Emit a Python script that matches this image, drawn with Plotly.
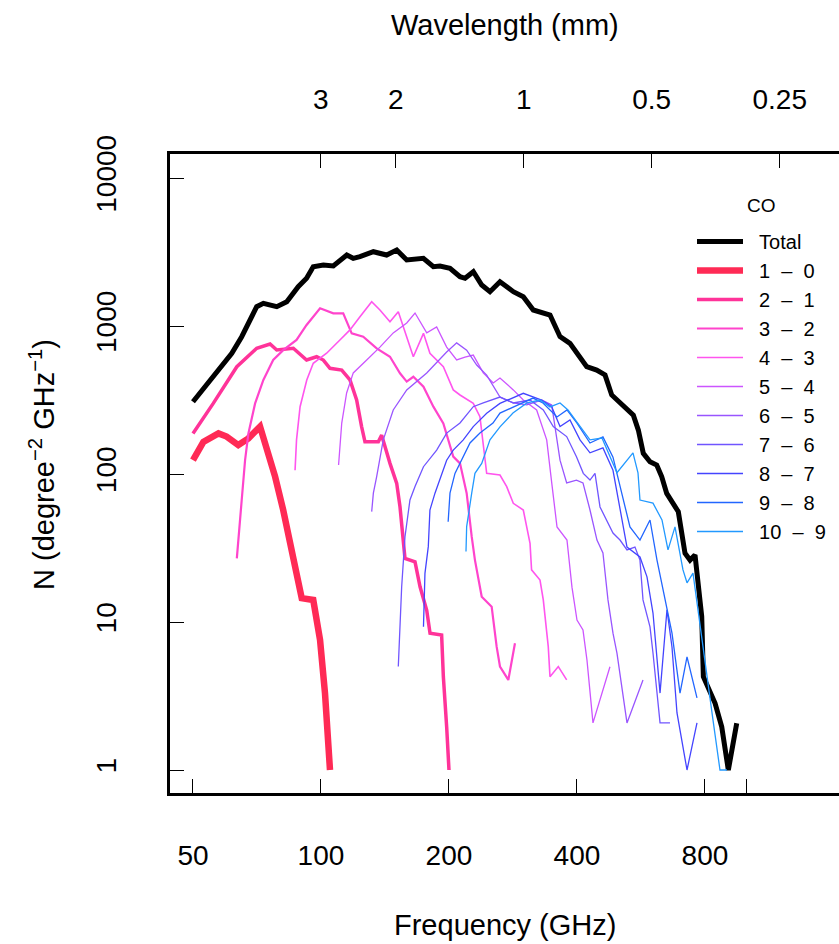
import math
import plotly.graph_objects as go

# ---------------- data ----------------
freq_total = [50, 61.7, 65.1, 70.6, 73.2, 78.7, 83.1, 88.4, 92.5, 95.9, 101.3, 106.9, 115, 119.1, 123.5,
              132.8, 142.7, 150.7, 159.1, 174.1, 183.8, 190.5, 201.1, 212.3, 218.2, 228.2, 238.8, 249.7,
              263.6, 283.4, 299.1, 315.7, 345.7, 364.9, 385.1, 406.6, 421.6, 445.1, 465.6, 482.8, 514,
              542.8, 557.7, 572.8, 594, 616, 632.8, 650.3, 692.4, 718, 737.8, 758, 786, 793, 845, 876,
              907.8, 950]
n_total = [308, 654, 847, 1350, 1424, 1350, 1460, 1843, 2101, 2516, 2584, 2544, 3018, 2867, 2940,
           3177, 3018, 3262, 2792, 2867, 2516, 2544, 2454, 2154, 2101, 2328, 1892, 1705,
           1992, 1705, 1578, 1283, 1187, 847, 764, 620, 531, 504, 467, 342, 285,
           250, 198, 138, 121, 115, 96, 74, 55.6, 29.1, 26.2, 28.4, 10.9, 4.27, 2.82, 1.96,
           1, 2.07]

freq_10 = [50, 52.9, 57.4, 60.0, 63.9, 67.5, 71.9, 75.9, 78.0, 81.5, 86.1, 90.1, 95.9, 99.5, 102.2, 104.0, 105]
n_10 = [124, 165, 188, 179, 157, 174, 209, 131, 96, 57.1, 26.2, 14.5, 14.1, 7.56, 3.30, 1.68, 1]

freq_21 = [50, 55.8, 63.4, 70.6, 75.9, 78.7, 86.1, 92.5, 97.7, 101.3, 105.0, 111.9, 117.0, 121.3, 124.6,
           126.9, 136.4, 138.9, 145.3, 150.7, 153.4, 157.6, 166.4, 171.0, 177.3, 180.5, 192.2, 194.0,
           197.5, 200]
n_21 = [188, 300, 531, 707, 756, 688, 707, 589, 620, 589, 518, 504, 432, 316, 209,
        165, 165, 183, 118, 86.5, 60.1, 26.9, 25.5, 17.3, 12.0, 8.39, 8.17, 4.27,
        1.96, 1]

freq_32 = [63.4, 63.9, 65.1, 66.3, 67.5, 70, 73.2, 77.2, 81.5, 87.6, 92.5, 99.5, 106.9, 112.8, 118.1,
           125.7, 135.2, 145.3, 153.4, 159.1, 164.9, 174.2, 183.8, 194, 204.7, 212.3, 220.1, 226.2,
           230.2, 238.8, 252, 258.9, 263.6, 275.8, 285.9]
n_32 = [26.9, 36.8, 66.7, 124, 188, 300, 432, 590, 687, 805, 1016, 1317, 1219, 1219, 892,
        847, 706, 620, 479, 421, 454, 389, 285, 220, 131, 118, 74.2, 37.7,
        26.2, 14.8, 12.7, 6.81, 5.0, 4.06, 7.18]

freq_43 = [86.9, 87.6, 89.3, 92.6, 95.9, 103.1, 110.8, 117, 123.5, 131.6, 137.6, 145.3, 152, 159.1,
           164.9, 174.2, 180.4, 194, 204.7, 212.3, 228.1, 236.5, 245.3, 263.6, 273.4, 283.3, 299.1,
           310.2, 312.8, 327.4, 333.3, 342.4, 345.6, 361.5, 378.3]
n_43 = [106, 170, 285, 432, 560, 655, 805, 941, 1155, 1459, 1283, 1069, 1249, 847,
        620, 892, 655, 531, 370, 342, 300, 244, 101, 98.4, 82.2, 63.4, 57.1,
        34.0, 22.5, 19.2, 14.1, 6.81, 4.27, 5.0, 4.06]

freq_54 = [110, 111.9, 114.9, 119.1, 128.1, 137.6, 147.9, 159.1, 166.4, 177.3, 187.1, 197.5, 208.5,
           218.1, 228.1, 240.8, 254.2, 263.6, 283.3, 299.1, 321.5, 339.5, 349.4, 359, 378.9, 389.3,
           400, 413.2, 422.2, 436.2, 478.2]
n_54 = [115, 221, 353, 482, 590, 720, 898, 1048, 1224, 898, 984, 720, 590,
        617, 636, 482, 412, 445, 370, 316, 271, 170, 84.1, 43.9, 35.8, 17.2,
        10.3, 8.83, 5.54, 2.08, 4.98]

freq_65 = [131.6, 132.8, 135.2, 140.1, 147.9, 159.1, 177.3, 197.5, 208.5, 220.1, 232.4, 245.3, 263.6,
           283.3, 304.8, 330.4, 348.8, 364.9, 378.3, 398.9, 413.2, 429.2, 445.7, 460.4, 473.1, 486.1,
           496.7, 524.4, 571.9]
n_65 = [55.7, 74.2, 95.9, 170, 271, 370, 482, 667, 769, 687, 545, 466, 331,
        302, 293, 316, 293, 124, 87, 91, 87, 57.1, 35.8, 29.3, 14.1, 8.41,
        6.17, 2.08, 4.06]

freq_76 = [152.0, 153.4, 154.8, 157.6, 161.9, 166.4, 174.2, 187.1, 197.5, 212.3, 228.1, 240.8, 263.6,
           283.3, 310.2, 333.3, 351.8, 378.3, 398.9, 413.9, 429.2, 441, 453.1, 486.1, 504.9, 524.4,
           547.5, 562.6, 571.9, 594, 603.7, 627.2, 661.9]
n_76 = [5.0, 10.9, 17.3, 37.7, 66.7, 82.2, 112, 145, 189, 221, 285, 302, 331,
        302, 316, 271, 209, 179, 131, 101, 91, 101, 59.9, 39.9, 35.8, 30.7,
        32.1, 26.2, 14.1, 9.27, 6.17, 2.08, 2.08]

freq_87 = [174.2, 175.6, 178.8, 180.4, 185.4, 192.3, 197.5, 204.7, 216.1, 228.1, 245.3, 263.6, 299.1,
           330.4, 348.8, 364.9, 385.1, 406.6, 429.2, 460.4, 486.1, 524.4, 562.6, 584.4, 603.7, 627.2,
           651.2, 669.1, 687.5, 725.8, 766.1]
n_87 = [9.28, 21.3, 32.3, 57.1, 74.2, 101, 124, 145, 170, 209, 257, 300, 351,
        316, 285, 209, 232, 170, 139, 150, 106, 32.1, 27.5, 20.2, 11.5, 3.31,
        12.1, 6.78, 2.43, 1, 2.08]

freq_98 = [199.1, 201.1, 206.6, 212.3, 224.1, 236.5, 253.8, 263.6, 282.8, 298.6, 315.3, 332.7, 359,
           378.9, 400, 429.2, 460.4, 486.1, 504.9, 532.9, 562.6, 594, 616.9, 651.2, 669.1, 698.8,
           725.8, 766.1]
n_98 = [47.6, 74.2, 101, 119, 162, 189, 221, 258, 284, 302, 326, 302, 243,
        271, 221, 162, 178, 130, 81.8, 43.9, 35.8, 48.9, 26.2, 12.1, 8.41, 3.31,
        5.81, 3.07]

freq_109 = [219.3, 220.1, 226.2, 230.2, 238.8, 249.7, 263.6, 282.8, 305.1, 327.4, 345.6, 364.9, 381,
            406.6, 429.2, 458, 496.7, 541.7, 556.6, 562.6, 603.7, 633.8, 654.8, 680.1, 710.2, 725.8,
            749.7, 835.4, 867.7, 901.2]
n_109 = [29.9, 44.1, 74.2, 101, 118, 170, 208, 258, 302, 316, 284, 302, 271,
         208, 170, 175, 102, 139, 102, 66.7, 63.6, 48.9, 30.7, 43.9, 22.5, 18.4,
         21.4, 2.18, 1, 1]

series_names = ["Total", "1 \u2013 0", "2 \u2013 1", "3 \u2013 2", "4 \u2013 3", "5 \u2013 4",
                "6 \u2013 5", "7 \u2013 6", "8 \u2013 7", "9 \u2013 8", "10 \u2013 9"]
series_freq = [freq_total, freq_10, freq_21, freq_32, freq_43, freq_54, freq_65, freq_76, freq_87,
               freq_98, freq_109]
series_n = [n_total, n_10, n_21, n_32, n_43, n_54, n_65, n_76, n_87, n_98, n_109]

freq_tick_vals = [50, 100, 200, 400, 800]
freq_tick_text = ["50", "100", "200", "400", "800"]
freq_minor_ticks = [1000]
wavelength_ticks_mm = [3, 2, 1, 0.5, 0.25]
wavelength_tick_text = ["3", "2", "1", "0.5", "0.25"]
n_tick_vals = [1, 10, 100, 1000, 10000]
n_tick_text = ["1", "10", "100", "1000", "10000"]

# ---------------- style ----------------
line_colors = ["#000000", "#FF2A55", "#FF3399", "#FF44CC", "#FF55EE", "#CC55FF",
               "#9955FF", "#7055FF", "#4444FF", "#2266FF", "#2299FF"]
line_widths = [5, 6.5, 3.5, 2.2, 1.6, 1.3, 1.3, 1.3, 1.3, 1.3, 1.3]

FONT = "Liberation Sans, Arial, Helvetica, sans-serif"
NB = "\u00a0"
C_MM_GHZ = 299.792458

W, H = 839, 944
ML, MR, MT, MB = 170, 0, 154, 151
PW, PH = W - ML - MR, H - MT - MB
x_range = [math.log10(44.15), math.log10(1653)]
y_range = [-0.1554, 4.1622]


def px_x(px):
    return (px - ML) / PW


def px_y(py):
    return (H - MB - py) / PH


fig = go.Figure()
for name, fx, ny, col, lw in zip(series_names, series_freq, series_n, line_colors, line_widths):
    label = NB * 2 + name.replace(" ", NB * 2)
    fig.add_trace(go.Scatter(x=fx, y=ny, mode="lines", name=label,
                             line=dict(color=col, width=lw)))

# invisible copy on the top (wavelength) axis so that the axis is drawn
fig.add_trace(go.Scatter(x=freq_total, y=n_total, xaxis="x2", mode="lines", opacity=0,
                         line=dict(width=0.1, color="white"), showlegend=False, hoverinfo="skip"))

tick_style = dict(ticks="inside", ticklen=14, tickwidth=1.3, tickcolor="black")
axis_common = dict(showgrid=False, zeroline=False, showline=True, linecolor="black", linewidth=2.7,
                   tickfont=dict(family=FONT, size=28, color="black"), **tick_style)

fig.update_layout(
    width=W, height=H,
    margin=dict(l=ML, r=MR, t=MT, b=MB, pad=0),
    paper_bgcolor="white", plot_bgcolor="white",
    showlegend=True,
    xaxis=dict(type="log", range=x_range, tickmode="array", tickvals=freq_tick_vals,
               ticktext=freq_tick_text, ticklabelstandoff=36,
               minor=dict(tickvals=freq_minor_ticks, showgrid=False, **tick_style),
               **axis_common),
    xaxis2=dict(type="log", range=x_range, overlaying="x", side="top", anchor="y",
                tickmode="array", tickvals=[C_MM_GHZ / w for w in wavelength_ticks_mm],
                ticktext=wavelength_tick_text, ticklabelstandoff=31, **axis_common),
    yaxis=dict(type="log", range=y_range, tickmode="array", tickvals=n_tick_vals,
               ticktext=n_tick_text, tickangle=-90, ticklabelstandoff=40, **axis_common),
    legend=dict(x=px_x(692), y=px_y(222),
                xanchor="left", yanchor="top", bgcolor="rgba(0,0,0,0)",
                font=dict(family=FONT, size=20, color="black"), itemwidth=46,
                traceorder="normal"),
    annotations=[
        dict(text="CO", xref="paper", yref="paper", x=px_x(761), y=px_y(205),
             xanchor="center", yanchor="middle", showarrow=False,
             font=dict(family=FONT, size=19, color="black")),
        dict(text="Frequency (GHz)", xref="paper", yref="paper", x=0.5, y=px_y(925),
             xanchor="center", yanchor="middle", showarrow=False,
             font=dict(family=FONT, size=29, color="black")),
        dict(text="Wavelength (mm)", xref="paper", yref="paper", x=0.5, y=px_y(25),
             xanchor="center", yanchor="middle", showarrow=False,
             font=dict(family=FONT, size=29, color="black")),
        dict(text="N (degree<sup>\u22122</sup> GHz<sup>\u22121</sup>)", xref="paper", yref="paper",
             x=px_x(42), y=px_y(465),
             xanchor="center", yanchor="middle", textangle=-90, showarrow=False,
             font=dict(family=FONT, size=29, color="black")),
    ],
)

fig.write_html("out.html")
